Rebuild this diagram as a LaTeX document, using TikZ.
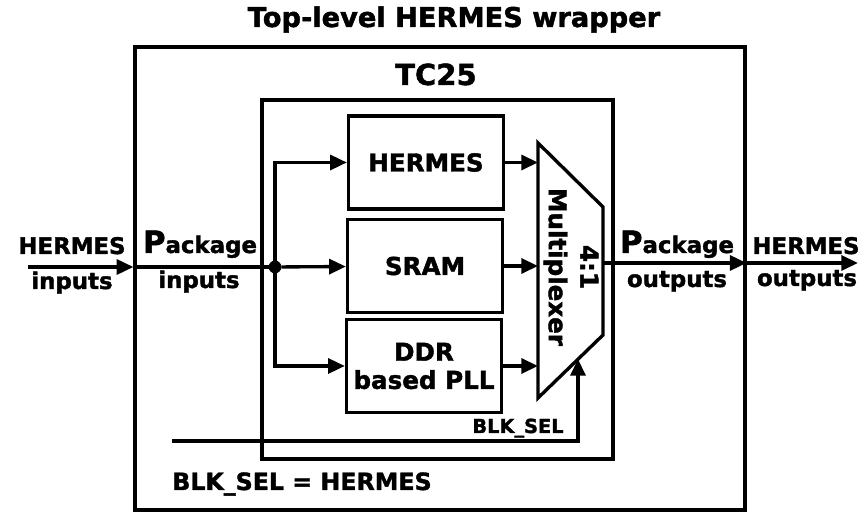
\documentclass[tikz,border=0pt]{standalone}
\usepackage{fontspec}
\setmainfont{DejaVu Sans}[BoldFeatures={FakeBold=1.6}]
\usetikzlibrary{arrows.meta,positioning,calc}

\newcommand{\bigP}{{\fontsize{17.5}{17.5}\selectfont P}}

\tikzset{
  frame/.style={draw, line width=1.9pt, inner sep=0pt},
  blkbox/.style={draw, line width=1.9pt, minimum width=3.1cm, minimum height=1.86cm, align=center, font=\bfseries\fontsize{14}{16}\selectfont},
  sig/.style={line width=1.9pt, -{Triangle[length=9.5pt,width=8.5pt]}},
  wire/.style={line width=1.9pt},
  lbl/.style={font=\bfseries\fontsize{13}{15}\selectfont, inner sep=0pt, align=center},
  ttl/.style={font=\bfseries\fontsize{15.5}{18}\selectfont, inner sep=0pt},
  jdot/.style={circle, fill, draw, inner sep=0pt, minimum size=0.24cm},
}

\begin{document}
\begin{tikzpicture}[x=0.02cm, y=-0.02cm]
  \useasboundingbox (0,0) rectangle (867,516);

  %% Frames
  \node[frame, minimum width=12.2cm, minimum height=9.26cm] (top) at (440,278.5) {};
  \node[ttl, anchor=base] (toptitle) at (454,27) {Top-level HERMES wrapper};
  \node[frame, minimum width=7.02cm, minimum height=7.18cm] (tc) at (437.5,279.5) {};
  \node[ttl, anchor=base, font=\bfseries\fontsize{16.5}{18}\selectfont] (tctitle) at (436,85) {TC25};

  %% Blocks
  \node[blkbox] (hermes) at (426,162.5) {HERMES};
  \node[blkbox] (sram) at (425,266) {SRAM};
  \node[blkbox] (ddr) at (424,366) {DDR\\based PLL};

  %% Multiplexer
  \draw[wire] (538,143) -- (603,207) -- (603,335) -- (538,398) -- cycle;
  \node[lbl, rotate=-90, font=\bfseries\fontsize{14}{18}\selectfont] (muxtxt) at (571,267) {4:1\\Multiplexer};
  \coordinate (muxL) at (538,267);
  \coordinate (muxR) at (603,263);
  \coordinate (muxS) at (578,359);

  %% Inputs
  \coordinate (in) at (28,267);
  \node[jdot] (split) at (275,267) {};
  \draw[sig] (in) -- (in -| top.west);
  \draw[wire] (in -| top.west) -- (split.center);
  \draw[sig] (split.center) |- (hermes);
  \draw[sig] (split) -- (sram);
  \draw[sig] (split.center) |- (ddr);

  %% Block outputs
  \draw[sig] (hermes) -- (hermes -| muxL);
  \draw[sig] (sram) -- (sram -| muxL);
  \draw[sig] (ddr) -- (ddr -| muxL);

  %% Outputs
  \coordinate (out) at (858,263);
  \draw[sig] (muxR) -- (muxR -| top.east);
  \draw[sig] (muxR -| top.east) -- (out);

  %% Select
  \coordinate (sel) at (172,441);
  \draw[sig] (sel) -| (muxS);
  \node[font=\bfseries\fontsize{11}{13}\selectfont, inner sep=0pt, anchor=base] (sellbl) at (518,433) {BLK\_SEL};
  \node[lbl, anchor=base, font=\bfseries\fontsize{13.5}{15}\selectfont] (selnote) at (302,490) {BLK\_SEL = HERMES};

  %% Labels
  \node[lbl, anchor=base] (hin) at (72,254) {HERMES};
  \node[lbl, anchor=base] (hin2) at (72,289) {inputs};
  \node[lbl, anchor=base] (pin) at (200,253) {\bigP ackage};
  \node[lbl, anchor=base] (pin2) at (199,288) {inputs};
  \node[lbl, anchor=base] (pout) at (677,253) {\bigP ackage};
  \node[lbl, anchor=base] (pout2) at (677,287) {outputs};
  \node[lbl, anchor=base] (hout) at (806,254) {HERMES};
  \node[lbl, anchor=base] (hout2) at (807,286) {outputs};
\end{tikzpicture}
\end{document}
